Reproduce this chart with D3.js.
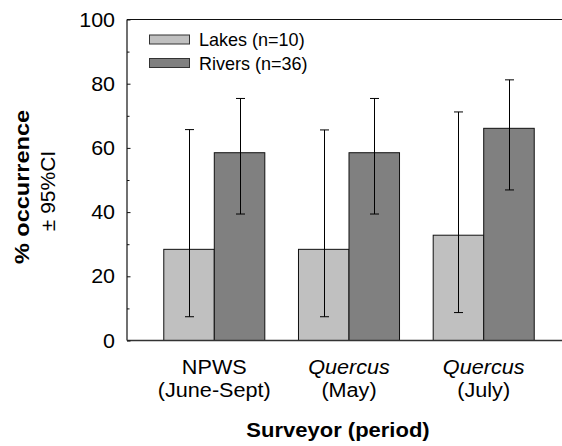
<!DOCTYPE html>
<html>
<head>
<meta charset="utf-8">
<script src="https://cdn.jsdelivr.net/npm/d3@7"></script>
<style>
  html, body { margin: 0; padding: 0; background: #fff; }
  svg { display: block; font-family: "Liberation Sans", Arial, sans-serif; }
</style>
</head>
<body>
<svg id="chart" width="562" height="446"></svg>
<script>
// Surveys and their periods
const surveyors = ["NPWS", "Quercus", "Quercus"];
const periods = ["(June-Sept)", "(May)", "(July)"];
const italicNames = new Set(["Quercus"]);

// Habitat series
const seriesNames = ["Lakes (n=10)", "Rivers (n=36)"];
const seriesKeys = ["Lakes", "Rivers"];

// % occurrence with 95% confidence limits
const lakes = [28.4, 28.4, 32.8];
const lakesLow = [7.4, 7.4, 8.7];
const lakesHigh = [65.7, 65.6, 71.2];
const rivers = [58.5, 58.5, 66.1];
const riversLow = [39.4, 39.4, 46.9];
const riversHigh = [75.4, 75.4, 81.2];

const yTicks = [0, 20, 40, 60, 80, 100];
const yMinorTicks = [10, 30, 50, 70, 90];

const colors = { Lakes: "#c0c0c0", Rivers: "#808080" };

const svg = d3.select("#chart");

const groups = surveyors.map((s, i) => i);
const x = d3.scaleBand().domain(groups).range([127, 571])
  .paddingInner(0.25).paddingOuter(0.273);
const xInner = d3.scaleBand().domain(seriesKeys).range([0, x.bandwidth()]);
const y = d3.scaleLinear().domain([0, 100]).range([340.5, 19.5]);

const rows = groups.map(i => [
  { key: "Lakes", g: i, v: lakes[i], lo: lakesLow[i], hi: lakesHigh[i] },
  { key: "Rivers", g: i, v: rivers[i], lo: riversLow[i], hi: riversHigh[i] }
]).flat();

// Bars
svg.append("g").selectAll("rect").data(rows).join("rect")
  .attr("x", d => x(d.g) + xInner(d.key))
  .attr("y", d => y(d.v))
  .attr("width", xInner.bandwidth())
  .attr("height", d => y(0) - y(d.v))
  .attr("fill", d => colors[d.key])
  .attr("stroke", "#111")
  .attr("stroke-width", 1);

// Error bars
const cap = 4.5;
const eb = svg.append("g").attr("stroke", "#000").attr("stroke-width", 1);
rows.forEach(d => {
  const cx = Math.round(x(d.g) + xInner(d.key) + xInner.bandwidth() / 2) + 0.5;
  eb.append("line").attr("x1", cx).attr("x2", cx).attr("y1", y(d.lo)).attr("y2", y(d.hi));
  eb.append("line").attr("x1", cx - cap).attr("x2", cx + cap).attr("y1", y(d.lo)).attr("y2", y(d.lo));
  eb.append("line").attr("x1", cx - cap).attr("x2", cx + cap).attr("y1", y(d.hi)).attr("y2", y(d.hi));
});

// Frame: left axis, top and bottom lines
const x0 = x.range()[0], x1 = x.range()[1];
svg.append("line").attr("x1", x0).attr("x2", x0).attr("y1", y(100)).attr("y2", y(0))
  .attr("stroke", "#111").attr("stroke-width", 1.2);
svg.append("line").attr("x1", x0).attr("x2", x1).attr("y1", y(100)).attr("y2", y(100))
  .attr("stroke", "#111").attr("stroke-width", 1.2);
svg.append("line").attr("x1", x0).attr("x2", x1).attr("y1", y(0)).attr("y2", y(0))
  .attr("stroke", "#333").attr("stroke-width", 1.6);

// Inward ticks
const yAxis = d3.axisRight(y).tickValues(yTicks).tickSize(3.5).tickFormat("");
const ga = svg.append("g").attr("transform", `translate(${x0},0)`).call(yAxis);
ga.select(".domain").remove();
ga.selectAll("line").attr("stroke", "#111");
const yMinor = d3.axisRight(y).tickValues(yMinorTicks).tickSize(2.5).tickFormat("");
const gm = svg.append("g").attr("transform", `translate(${x0},0)`).call(yMinor);
gm.select(".domain").remove();
gm.selectAll("line").attr("stroke", "#111");

// Text helper with horizontal stretch along the text direction
function label(tx, ty, str, opts) {
  const o = Object.assign({ size: 20, weight: "normal", style: "normal", anchor: "middle", rotate: 0, sx: 1 }, opts);
  return svg.append("text")
    .attr("transform", `translate(${tx},${ty}) rotate(${o.rotate}) scale(${o.sx},1)`)
    .attr("text-anchor", o.anchor)
    .attr("font-size", o.size)
    .attr("font-weight", o.weight)
    .attr("font-style", o.style)
    .attr("fill", "#000")
    .text(str);
}

// Y tick labels
yTicks.forEach(t => label(115, y(t) + 7, t, { size: 19.5, anchor: "end", sx: 1.1 }));

// Category labels
groups.forEach(i => {
  const cx = x(i) + x.bandwidth() / 2;
  label(cx, 374, surveyors[i], { size: 21, sx: 1.03, style: italicNames.has(surveyors[i]) ? "italic" : "normal" });
  label(cx, 397, periods[i], { size: 21, sx: 1.03 });
});

// Axis titles
label(338, 437, "Surveyor (period)", { size: 20, weight: "bold", sx: 1.1 });
label(28.5, 187, "% occurrence", { size: 21, weight: "bold", rotate: -90, sx: 1.12 });
label(55, 191, "± 95%CI", { size: 21, rotate: -90, sx: 1.0 });

// Legend
seriesKeys.forEach((k, i) => {
  const ly = 35 + i * 23.5;
  svg.append("rect").attr("x", 149.5).attr("y", ly).attr("width", 40).attr("height", 9)
    .attr("fill", colors[k]).attr("stroke", "#333").attr("stroke-width", 1);
  label(199, ly + 11, seriesNames[i], { size: 17.5, anchor: "start", sx: 1.03 });
});
</script>
</body>
</html>
